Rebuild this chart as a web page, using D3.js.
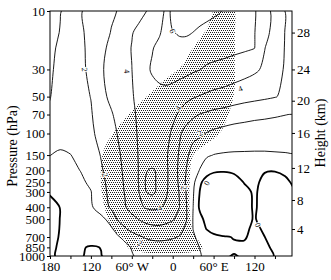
<!DOCTYPE html>
<html>
<head>
<meta charset="utf-8">
<script src="https://cdn.jsdelivr.net/npm/d3@7"></script>
<style>
  body { margin: 0; background: #fff; }
  svg { display: block; }
</style>
</head>
<body>
<div id="viz"></div>
<script>
// longitude-pressure section: contours of the field, stippled area = significant

const lons = [-180, -165, -150, -135, -120, -105, -90, -80, -70, -60, -50, -40, -30, -20, -10,
              0, 10, 20, 30, 40, 50, 60, 75, 90, 105, 120, 135, 150, 165, 180];
const levels = [1000, 850, 700, 600, 500, 400, 300, 250, 200, 150, 100, 70, 50, 30, 20, 15, 10];

// one row per level (1000 hPa first), one value per longitude
const field = [
  [-0.3, 0.3, 0.2, 0.05, -0.12, -0.03, 0.3, 0.5, 0.72, 0.93, 1.15, 1.35, 1.45, 1.5, 1.5, 1.45, 1.35, 1.25, 1.12, 1.05, 0.8, 0.45, 0.1, -0.05, 0.1, 0.2, 0.15, -0.02, -0.3, -0.4],
  [-0.4, 0.25, 0.2, 0.08, -0.08, 0.02, 0.35, 0.55, 0.78, 1.05, 1.3, 1.5, 1.62, 1.68, 1.68, 1.62, 1.5, 1.35, 1.18, 0.98, 0.75, 0.5, 0.25, 0.15, 0.2, 0.3, 0.15, -0.15, -0.4, -0.5],
  [-0.45, 0.1, 0.3, 0.4, 0.5, 0.62, 0.8, 0.93, 1.2, 1.55, 1.85, 2.08, 2.18, 2.2, 2.15, 2.08, 1.95, 1.6, 1.12, 0.75, 0.5, 0.3, 0.1, -0.05, -0.1, 0.3, 0.01, -0.5, -0.6, -0.6],
  [-0.5, 0.05, 0.25, 0.4, 0.55, 0.72, 0.9, 1.35, 1.9, 2.3, 2.55, 2.72, 2.82, 2.85, 2.78, 2.6, 2.32, 1.8, 0.98, 0.45, -0.05, -0.5, -0.8, -0.7, -0.3, 0.3, -0.2, -0.6, -0.7, -0.7],
  [-0.4, 0.02, 0.2, 0.4, 0.6, 0.75, 1.35, 2.15, 2.45, 2.72, 3.02, 3.2, 3.28, 3.28, 3.2, 3.08, 2.75, 2.05, 0.95, 0.3, -0.35, -0.8, -1.0, -0.85, -0.4, 0.1, -0.55, -0.8, -0.8, -0.7],
  [-0.3, 0.02, 0.3, 0.6, 0.88, 1.45, 2.15, 2.5, 2.93, 3.35, 3.75, 4.08, 4.2, 4.12, 3.85, 3.45, 3.0, 2.05, 1.0, -0.2, -0.8, -1.0, -1.05, -0.9, -0.45, 0.15, -0.5, -0.7, -0.7, -0.6],
  [0.1, 0.35, 0.55, 0.75, 0.97, 1.65, 2.3, 2.65, 3.05, 3.45, 3.95, 4.97, 5.2, 4.75, 4.15, 3.5, 2.95, 1.95, 1.1, -0.05, -0.6, -0.8, -0.85, -0.7, -0.3, 0.15, -0.4, -0.6, -0.4, -0.05],
  [0.55, 0.55, 0.65, 0.85, 1.15, 1.75, 2.35, 2.72, 3.1, 3.55, 4.02, 5.02, 5.25, 4.75, 4.2, 3.5, 2.85, 1.85, 1.25, 0.15, -0.4, -0.6, -0.65, -0.45, 0.05, 0.25, -0.3, -0.45, -0.15, 0.15],
  [0.75, 0.7, 0.8, 1.02, 1.45, 1.9, 2.45, 2.8, 3.15, 3.55, 4.02, 4.95, 5.1, 4.85, 4.2, 3.5, 2.8, 1.98, 1.4, 0.95, 0.4, 0.15, 0.1, 0.2, 0.35, 0.3, 0.08, 0.05, 0.15, 0.3],
  [1.01, 0.9, 0.98, 1.25, 1.55, 2.05, 2.6, 2.9, 3.2, 3.55, 4.05, 4.3, 4.4, 4.35, 4.1, 3.7, 2.85, 2.2, 1.6, 1.35, 1.12, 0.98, 0.92, 0.9, 0.9, 0.9, 0.9, 0.92, 0.94, 0.95],
  [1.15, 1.3, 1.45, 1.62, 1.83, 2.3, 2.75, 3.05, 3.35, 3.7, 4.1, 4.3, 4.42, 4.42, 4.3, 3.85, 3.15, 2.6, 2.3, 2.15, 1.95, 1.8, 1.65, 1.55, 1.5, 1.45, 1.45, 1.45, 1.45, 1.45],
  [1.1, 1.3, 1.5, 1.7, 1.92, 2.5, 2.92, 3.25, 3.5, 3.85, 4.12, 4.35, 4.5, 4.55, 4.45, 4.2, 3.88, 3.5, 3.18, 2.97, 2.85, 2.72, 2.6, 2.45, 2.35, 2.25, 2.18, 2.1, 2.02, 1.95],
  [0.98, 1.25, 1.5, 1.75, 2.02, 2.75, 3.2, 3.4, 3.65, 3.93, 4.2, 4.45, 4.65, 4.75, 4.75, 4.6, 4.4, 4.25, 4.08, 3.95, 3.85, 3.75, 3.65, 3.5, 3.35, 3.25, 3.15, 3.04, 2.85, 2.6],
  [0.85, 1.3, 1.6, 1.85, 2.15, 2.9, 3.3, 3.5, 3.75, 3.99, 4.4, 4.8, 5.1, 5.25, 5.35, 5.4, 5.35, 5.25, 5.12, 5.02, 4.85, 4.75, 4.65, 4.5, 4.35, 4.15, 3.85, 3.4, 2.9, 2.55],
  [0.75, 1.2, 1.55, 1.85, 2.2, 2.75, 3.25, 3.5, 3.78, 4.03, 4.35, 4.65, 4.95, 5.2, 5.5, 5.65, 5.7, 5.7, 5.65, 5.6, 5.5, 5.45, 5.35, 5.25, 5.15, 5.02, 4.02, 3.55, 2.95, 2.6],
  [0.55, 1.05, 1.45, 1.9, 2.2, 2.55, 3.05, 3.3, 3.6, 3.95, 4.2, 4.5, 4.75, 4.9, 5.3, 5.95, 6.1, 6.1, 5.99, 5.85, 5.75, 5.65, 5.5, 5.35, 5.2, 5.03, 4.3, 3.65, 2.97, 2.6],
  [0.5, 0.95, 1.4, 1.95, 2.25, 2.55, 2.85, 3.04, 3.25, 3.5, 3.72, 3.95, 4.25, 4.6, 5.15, 6.5, 6.5, 6.45, 6.4, 6.35, 6.25, 6.15, 5.95, 5.6, 5.35, 5.08, 4.45, 3.65, 2.98, 2.6]
];

const thresholds = [0, 1, 2, 3, 4, 5, 6];

// outline of the stippled (significant) area
const shadeLon = [65, 88, 91, 91, 91, 84, 69, 47, 30, 25, 25, 30, 40, 43, -63, -70, -89, -99, -105, -105, -101, -88, -58, -33, -8, 11, 30, 50];
const shadeP = [9, 9, 17, 29, 42, 64, 99, 124, 150, 240, 420, 650, 780, 880, 880, 740, 590, 420, 263, 181, 136, 101, 64, 47, 35, 29, 20, 14];

// contour labels
const labelText = ['2', '4', '6', '4', '2', '4', '2', '4', '2', '2', '0', '0'];
const labelLon = [-129, -67, 0, 8, 40, 99, -99, -19, 17, -48, 50, 125];
const labelP = [30, 31, 14.6, 62, 99, 43, 218, 406, 278, 785, 254, 558];

const pTicks = [10, 30, 50, 70, 100, 150, 200, 250, 300, 400, 500, 700, 850, 1000];
const heightKm = [4, 8, 12, 16, 20, 24, 28];
const heightP = [602, 349, 191, 99, 54, 30, 15];
const lonTicks = [-180, -150, -120, -90, -60, -30, 0, 30, 60, 90, 120, 150];
const lonLabelAt = [-180, -120, -60, 0, 60, 120];
const lonLabelText = ['180', '120', '60° W', '0', '60° E', '120'];

const dimensions = {
    width: 331,
    height: 280,
    margins: { left: 50, right: 39, top: 11, bottom: 24 }
};
dimensions.boundedWidth = dimensions.width - dimensions.margins.left - dimensions.margins.right;
dimensions.boundedHeight = dimensions.height - dimensions.margins.top - dimensions.margins.bottom;

const serif = "'Liberation Serif', 'Times New Roman', serif";

const svg = d3.select('#viz').append('svg')
    .attr('width', dimensions.width)
    .attr('height', dimensions.height);

const xScale = d3.scaleLinear()
    .domain([-180, 175])
    .range([dimensions.margins.left, dimensions.margins.left + dimensions.boundedWidth]);

const yScale = d3.scaleLog()
    .domain([10, 1000])
    .range([dimensions.margins.top, dimensions.margins.top + dimensions.boundedHeight]);

const defs = svg.append('defs');
defs.append('clipPath').attr('id', 'plotclip')
  .append('rect')
    .attr('x', xScale(-180)).attr('y', yScale(10))
    .attr('width', dimensions.boundedWidth).attr('height', dimensions.boundedHeight);

// stipple: one dark dot every 2 px, rows shifted by 1 px
const dots = defs.append('pattern')
    .attr('id', 'dots')
    .attr('patternUnits', 'userSpaceOnUse')
    .attr('width', 2).attr('height', 4);
[[0, 0], [1, 2]].forEach(function(d) {
    dots.append('rect').attr('x', d[0]).attr('y', d[1]).attr('width', 1).attr('height', 1).attr('fill', '#1e1e1e');
});

const plot = svg.append('g').attr('clip-path', 'url(#plotclip)');

// stippled area
const shadePts = shadeLon.map((d, i) => [xScale(d), yScale(shadeP[i])]);
plot.append('path')
    .attr('d', d3.line().curve(d3.curveCatmullRomClosed.alpha(0.5))(shadePts))
    .attr('fill', 'url(#dots)');

// contours
const nx = lons.length, ny = levels.length;
const xs = lons.map(xScale), ys = levels.map(yScale);

function along(arr, t) {
    const i = Math.max(0, Math.min(arr.length - 2, Math.floor(t)));
    return arr[i] + (arr[i + 1] - arr[i]) * (t - i);
}
function toScreen(pt) { return [along(xs, pt[0] - 0.5), along(ys, pt[1] - 0.5)]; }
function onEdge(pt) { return pt[0] <= 0 || pt[0] >= nx || pt[1] <= 0 || pt[1] >= ny; }

// cut the rings where they run along the grid border
function pieces(ring) {
    let pts = ring.slice();
    const a = pts[0], b = pts[pts.length - 1];
    if (a[0] === b[0] && a[1] === b[1]) pts.pop();
    const k = pts.findIndex(onEdge);
    if (k < 0) return [{ closed: true, pts: pts }];
    pts = pts.slice(k).concat(pts.slice(0, k));
    const out = [];
    let cur = null;
    for (let i = 0; i <= pts.length; i++) {
        const p = pts[i % pts.length];
        if (onEdge(p)) {
            if (cur) {
                cur.push(p);
                if (cur.length > 2) out.push({ closed: false, pts: cur });
            }
            cur = [p];
        } else {
            cur.push(p);
        }
    }
    return out;
}

const contours = d3.contours()
    .size([nx, ny])
    .thresholds(thresholds)(field.flat());

const openLine = d3.line().curve(d3.curveCatmullRom.alpha(0.5));
const closedLine = d3.line().curve(d3.curveCatmullRomClosed.alpha(0.5));

contours.forEach(function(c) {
    c.coordinates.forEach(function(poly) {
        poly.forEach(function(ring) {
            pieces(ring).forEach(function(pc) {
                const s = pc.pts.map(toScreen);
                plot.append('path')
                    .attr('d', pc.closed ? closedLine(s) : openLine(s))
                    .attr('fill', 'none')
                    .attr('stroke', '#000')
                    .attr('stroke-linejoin', 'round')
                    .attr('stroke-width', c.value === 0 ? 1.8 : 0.9);
            });
        });
    });
});

// field value at a screen point, used to turn the labels along the lines
function fieldAt(x, y) {
    let i = 0;
    while (i < nx - 2 && xs[i + 1] < x) i++;
    let j = 0;
    while (j < ny - 2 && ys[j + 1] > y) j++;
    const tx = Math.max(0, Math.min(1, (x - xs[i]) / (xs[i + 1] - xs[i])));
    const ty = Math.max(0, Math.min(1, (y - ys[j]) / (ys[j + 1] - ys[j])));
    const v00 = field[j][i], v10 = field[j][i + 1], v01 = field[j + 1][i], v11 = field[j + 1][i + 1];
    return (v00 * (1 - tx) + v10 * tx) * (1 - ty) + (v01 * (1 - tx) + v11 * tx) * ty;
}

labelText.forEach(function(t, i) {
    const x = xScale(labelLon[i]), y = yScale(labelP[i]);
    const gx = fieldAt(x + 2, y) - fieldAt(x - 2, y);
    const gy = fieldAt(x, y + 2) - fieldAt(x, y - 2);
    let ang = Math.atan2(gy, gx) * 180 / Math.PI + 90;
    while (ang > 90) ang -= 180;
    while (ang < -90) ang += 180;
    plot.append('text')
        .attr('transform', `translate(${x},${y}) rotate(${ang})`)
        .attr('text-anchor', 'middle')
        .attr('dy', '0.35em')
        .attr('font-family', serif)
        .attr('font-size', 8)
        .attr('fill', '#000')
        .attr('stroke', '#fff')
        .attr('stroke-width', 2)
        .attr('paint-order', 'stroke')
        .text(t);
});

// frame
svg.append('rect')
    .attr('x', xScale(-180)).attr('y', yScale(10))
    .attr('width', dimensions.boundedWidth).attr('height', dimensions.boundedHeight)
    .attr('fill', 'none').attr('stroke', '#000').attr('stroke-width', 1);

// axes
const xAxis = svg.append('g')
    .attr('transform', `translate(0, ${yScale(1000)})`)
    .call(d3.axisBottom(xScale)
        .tickValues(lonTicks)
        .tickSize(3)
        .tickSizeOuter(0)
        .tickPadding(3)
        .tickFormat(d => {
            const k = lonLabelAt.indexOf(d);
            return k < 0 ? '' : lonLabelText[k];
        }));

const yAxis = svg.append('g')
    .attr('transform', `translate(${xScale(-180)}, 0)`)
    .call(d3.axisLeft(yScale)
        .tickValues(pTicks)
        .tickSize(3)
        .tickSizeOuter(0)
        .tickPadding(2)
        .tickFormat(d => d));

const hAxis = svg.append('g')
    .attr('transform', `translate(${xScale(175)}, 0)`)
    .call(d3.axisRight(yScale)
        .tickValues(heightP)
        .tickSize(3)
        .tickSizeOuter(0)
        .tickPadding(2)
        .tickFormat((d, i) => heightKm[i]));

[xAxis, yAxis, hAxis].forEach(function(ax) {
    ax.attr('font-family', serif).attr('font-size', 13);
    ax.select('.domain').remove();
    ax.selectAll('line').attr('stroke', '#000');
    ax.selectAll('text').attr('fill', '#000');
});

svg.append('text')
    .attr('transform', `translate(17, 146) rotate(-90)`)
    .attr('text-anchor', 'middle')
    .attr('font-family', serif)
    .attr('font-size', 14)
    .text('Pressure (hPa)');

svg.append('text')
    .attr('transform', `translate(325, 133) rotate(-90)`)
    .attr('text-anchor', 'middle')
    .attr('font-family', serif)
    .attr('font-size', 14)
    .text('Height (km)');
</script>
</body>
</html>
